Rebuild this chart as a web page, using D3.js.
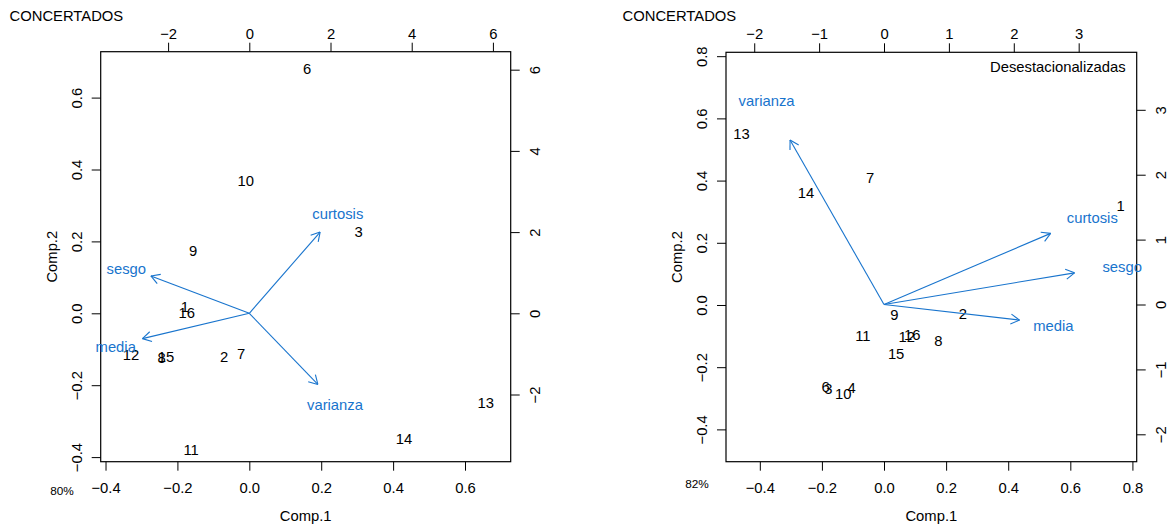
<!DOCTYPE html>
<html><head><meta charset="utf-8">
<script src="https://cdn.jsdelivr.net/npm/d3@7"></script>
<style>
body{margin:0;background:#fff;}
text{font-family:"Liberation Sans",Arial,sans-serif;}
</style></head>
<body><svg id="chart" width="1170" height="529"></svg>
<script>
// ---------- DATA ----------
const leftLabels = ["6","10","3","9","1","16","12","8","15","2","7","13","14","11"];
const leftComp1  = [0.161,-0.010,0.304,-0.156,-0.179,-0.174,-0.329,-0.244,-0.232,-0.070,-0.023,0.658,0.430,-0.162];
const leftComp2  = [0.679,0.368,0.225,0.173,0.018,0.000,-0.116,-0.125,-0.122,-0.122,-0.114,-0.250,-0.350,-0.380];
const leftVars   = ["curtosis","sesgo","media","varianza"];
const leftLoad1  = [2.18,-3.03,-3.29,2.11];
const leftLoad2  = [2.50,1.15,-0.78,-2.19];

const rightLabels = ["13","14","7","1","9","2","11","12","16","8","15","6","3","10","4"];
const rightComp1  = [-0.459,-0.251,-0.045,0.762,0.033,0.254,-0.068,0.073,0.091,0.175,0.039,-0.188,-0.179,-0.131,-0.104];
const rightComp2  = [0.549,0.361,0.409,0.319,-0.032,-0.029,-0.100,-0.104,-0.096,-0.116,-0.158,-0.263,-0.270,-0.287,-0.266];
const rightVars   = ["varianza","curtosis","sesgo","media"];
const rightLoad1  = [-1.81,3.21,3.67,2.61];
const rightLoad2  = [3.17,1.37,0.61,-0.30];

const leftScoreTicks = [-0.4,-0.2,0.0,0.2,0.4,0.6];
const leftLoadTicks  = [-2,0,2,4,6];
const rightScoreTicks = [-0.4,-0.2,0.0,0.2,0.4,0.6,0.8];
const rightLoadTicks  = [-2,-1,0,1,2,3];

const titleText = "CONCERTADOS";
const leftPct = "80%", rightPct = "82%";
const subtitleRight = "Desestacionalizadas";

// ---------- DRAW ----------
const svg = d3.select("#chart");
const FS = 14.8;
const BLUE = "#1874CD";

function panel(cfg){
  const {x0,x1,y0,y1} = cfg.box;
  const g = svg.append("g");
  const xs = d3.scaleLinear().domain(cfg.xd).range([x0,x1]);
  const ys = d3.scaleLinear().domain(cfg.yd).range([y1,y0]);
  const xl = d3.scaleLinear().domain(cfg.xld).range([x0,x1]);
  const yl = d3.scaleLinear().domain(cfg.yld).range([y1,y0]);

  function styleAxis(sel){
    sel.select(".domain").remove();
    sel.selectAll(".tick line").attr("stroke","#000").attr("stroke-width",1);
    sel.selectAll("text").attr("font-size",FS).attr("fill","#000")
      .attr("font-family","Liberation Sans, Arial, sans-serif");
  }
  // bottom
  const ab = g.append("g").attr("transform",`translate(0,${y1})`)
    .call(d3.axisBottom(xs).tickValues(cfg.sTicks).tickFormat(d3.format(".1f")).tickSize(9).tickSizeOuter(0));
  styleAxis(ab);
  ab.selectAll("text").attr("y",26).attr("dy",null).attr("dominant-baseline","central");
  // left
  const al = g.append("g").attr("transform",`translate(${x0},0)`)
    .call(d3.axisLeft(ys).tickValues(cfg.sTicks).tickFormat(d3.format(".1f")).tickSize(9).tickSizeOuter(0));
  styleAxis(al);
  al.selectAll("text").attr("x",null).attr("dy",null).attr("text-anchor","middle")
    .attr("dominant-baseline","central").attr("transform","translate(-24,0) rotate(-90)");
  // top
  const at = g.append("g").attr("transform",`translate(0,${y0})`)
    .call(d3.axisTop(xl).tickValues(cfg.lTicks).tickFormat(d3.format("d")).tickSize(9).tickSizeOuter(0));
  styleAxis(at);
  at.selectAll("text").attr("y",-18).attr("dy",null).attr("dominant-baseline","central");
  // right
  const ar = g.append("g").attr("transform",`translate(${x1},0)`)
    .call(d3.axisRight(yl).tickValues(cfg.lTicks).tickFormat(d3.format("d")).tickSize(9).tickSizeOuter(0));
  styleAxis(ar);
  ar.selectAll("text").attr("x",null).attr("dy",null).attr("text-anchor","middle")
    .attr("dominant-baseline","central").attr("transform","translate(24,0) rotate(-90)");

  // box
  g.append("rect").attr("x",x0).attr("y",y0).attr("width",x1-x0).attr("height",y1-y0)
    .attr("fill","none").attr("stroke","#000").attr("stroke-width",1.2);

  // point labels
  const pts = cfg.labels.map((l,i)=>({l, a:cfg.c1[i], b:cfg.c2[i]}));
  g.selectAll("text.pt").data(pts).join("text").attr("class","pt")
    .attr("x",d=>xs(d.a)).attr("y",d=>ys(d.b))
    .attr("text-anchor","middle").attr("dominant-baseline","central")
    .attr("font-size",FS).attr("fill","#000").text(d=>d.l);

  // arrows
  const vars = cfg.vars.map((v,i)=>({v, a:cfg.l1[i], b:cfg.l2[i]}));
  const ox = xl(0), oy = yl(0);
  vars.forEach(d=>{
    const tx = xl(0.8*d.a), ty = yl(0.8*d.b);
    g.append("line").attr("x1",ox).attr("y1",oy).attr("x2",tx).attr("y2",ty)
      .attr("stroke",BLUE).attr("stroke-width",1.1);
    const ang = Math.atan2(ty-oy, tx-ox);
    const L = 10, h = Math.PI/6;
    [ang+Math.PI-h, ang+Math.PI+h].forEach(t=>{
      g.append("line").attr("x1",tx).attr("y1",ty)
        .attr("x2",tx+L*Math.cos(t)).attr("y2",ty+L*Math.sin(t))
        .attr("stroke",BLUE).attr("stroke-width",1.1);
    });
  });
  g.selectAll("text.var").data(vars).join("text").attr("class","var")
    .attr("x",d=>xl(d.a)).attr("y",d=>yl(d.b)+2.5)
    .attr("text-anchor","middle").attr("dominant-baseline","central")
    .attr("font-size",FS).attr("fill",BLUE).text(d=>d.v);

  // axis titles
  g.append("text").attr("x",(x0+x1)/2).attr("y",516).attr("text-anchor","middle")
    .attr("dominant-baseline","central").attr("font-size",FS).text("Comp.1");
  g.append("text").attr("transform",`translate(${x0-49},${(y0+y1)/2}) rotate(-90)`)
    .attr("text-anchor","middle").attr("dominant-baseline","central").attr("font-size",FS).text("Comp.2");

  // title and percent
  g.append("text").attr("x",cfg.titleX).attr("y",16).attr("dominant-baseline","central")
    .attr("font-size",FS).text(titleText);
  g.append("text").attr("x",cfg.pctX).attr("y",cfg.pctY).attr("text-anchor","middle")
    .attr("dominant-baseline","central").attr("font-size",11.8).text(cfg.pct);
  if(cfg.sub){
    g.append("text").attr("x",x1-11).attr("y",67).attr("text-anchor","end")
      .attr("dominant-baseline","central").attr("font-size",FS).text(cfg.sub);
  }
}

panel({
  box:{x0:100.7,x1:510.7,y0:51.7,y1:461.7},
  xd:[-0.4134,0.7271], yd:[-0.4128,0.7277],
  xld:[-3.660,6.438], yld:[-3.655,6.443],
  sTicks:leftScoreTicks, lTicks:leftLoadTicks,
  labels:leftLabels, c1:leftComp1, c2:leftComp2,
  vars:leftVars, l1:leftLoad1, l2:leftLoad2,
  titleX:9.5, pct:leftPct, pctX:62, pctY:491
});
panel({
  box:{x0:726,x1:1136.7,y0:52.3,y1:461.7},
  xd:[-0.5089,0.8138], yd:[-0.5039,0.8125],
  xld:[-2.435,3.894], yld:[-2.422,3.886],
  sTicks:rightScoreTicks, lTicks:rightLoadTicks,
  labels:rightLabels, c1:rightComp1, c2:rightComp2,
  vars:rightVars, l1:rightLoad1, l2:rightLoad2,
  titleX:622.5, pct:rightPct, pctX:697, pctY:484, sub:subtitleRight
});
</script></body></html>
